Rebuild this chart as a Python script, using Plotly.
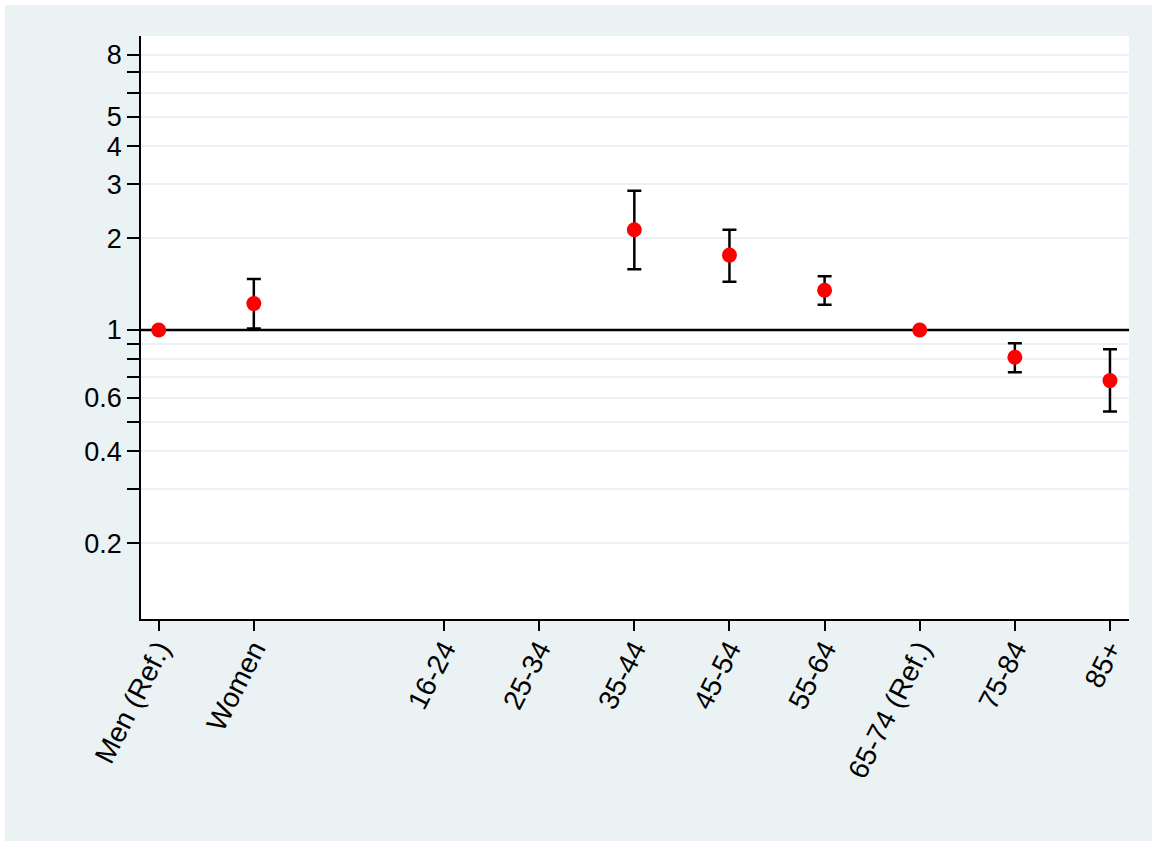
import plotly.graph_objects as go

# Categories on the x axis (slot 3 is left empty between sex and age groups)
categories = ["Men (Ref.)", "Women", "16-24", "25-34", "35-44", "45-54",
              "55-64", "65-74 (Ref.)", "75-84", "85+"]
slots = [1, 2, 4, 5, 6, 7, 8, 9, 10, 11]

# Estimates and confidence limits (None where nothing is drawn)
estimate = [1.0, 1.22, None, None, 2.13, 1.76, 1.35, 1.0, 0.814, 0.682]
ci_upper = [1.0, 1.47, None, None, 2.86, 2.13, 1.50, 1.0, 0.904, 0.865]
ci_lower = [1.0, 1.01, None, None, 1.58, 1.44, 1.21, 1.0, 0.727, 0.54]

# y ticks: labelled ones and unlabelled minor ones
ytick_vals = [0.2, 0.3, 0.4, 0.5, 0.6, 0.7, 0.8, 0.9, 1, 2, 3, 4, 5, 6, 7, 8]
ytick_text = ["0.2", "", "0.4", "", "0.6", "", "", "", "1", "2", "3", "4", "5", "", "", "8"]

bg = "rgb(234,242,243)"
font = "Liberation Sans, Arial, sans-serif"

err_plus = [None if e is None else u - e for e, u in zip(estimate, ci_upper)]
err_minus = [None if e is None else e - l for e, l in zip(estimate, ci_lower)]
has_ci = [e is not None and u != l for e, u, l in zip(estimate, ci_upper, ci_lower)]

fig = go.Figure()

# reference line at 1
fig.add_trace(go.Scatter(
    x=[0.814, 11.2], y=[1, 1],
    mode="lines",
    line=dict(color="black", width=2.5),
    hoverinfo="skip",
    showlegend=False
))

fig.add_trace(go.Scatter(
    x=slots,
    y=estimate,
    mode="markers",
    marker=dict(color="red", size=15),
    error_y=dict(
        type="data",
        symmetric=False,
        array=[p if h else 0 for p, h in zip(err_plus, has_ci)],
        arrayminus=[m if h else 0 for m, h in zip(err_minus, has_ci)],
        color="black",
        thickness=2.5,
        width=7
    ),
    showlegend=False
))

fig.update_xaxes(
    range=[0.814, 11.2],
    tickmode="array",
    tickvals=slots,
    ticktext=categories,
    tickangle=-63,
    ticks="outside",
    ticklen=10,
    tickwidth=1.5,
    tickcolor="black",
    ticklabelstandoff=-9,
    showgrid=False,
    showline=True,
    linecolor="black",
    linewidth=1.5,
    zeroline=False,
    tickfont=dict(family=font, size=28, color="black")
)

fig.update_yaxes(
    type="log",
    range=[-0.948, 0.964],
    tickmode="array",
    tickvals=ytick_vals,
    ticktext=ytick_text,
    ticks="outside",
    ticklen=12,
    tickwidth=1.5,
    tickcolor="black",
    showgrid=True,
    gridcolor=bg,
    gridwidth=2,
    showline=True,
    linecolor="black",
    linewidth=1.5,
    zeroline=False,
    tickfont=dict(family=font, size=27, color="black")
)

fig.update_layout(
    width=1147,
    height=836,
    margin=dict(l=136, r=23, t=31, b=222),
    paper_bgcolor=bg,
    plot_bgcolor="white",
    font=dict(family=font, color="black"),
    hovermode=False
)

# page offset of 5px top/left like the original, no scrollbars
fig.write_html(
    "out.html",
    post_script="document.body.style.margin='5px 0 0 5px'; document.body.style.overflow='hidden';"
)
